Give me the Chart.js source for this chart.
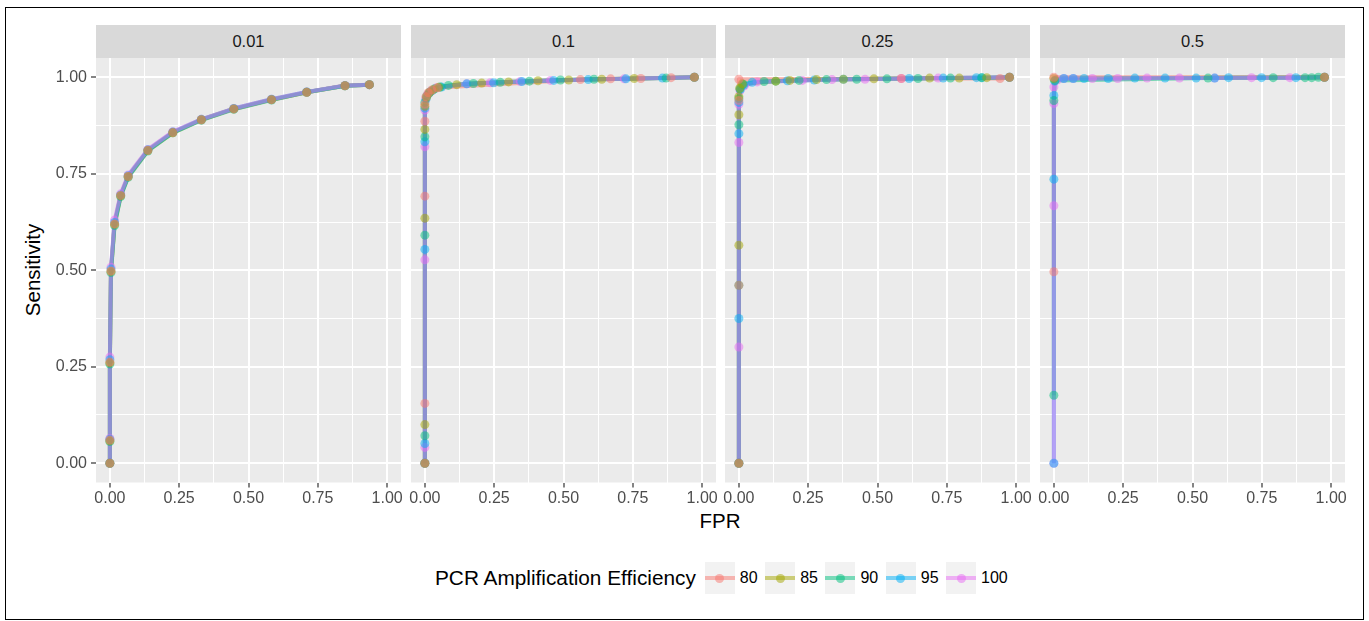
<!DOCTYPE html>
<html>
<head>
<meta charset="utf-8">
<title>ROC by facet</title>
<script src="https://cdn.jsdelivr.net/npm/chart.js@4.4.1/dist/chart.umd.min.js"></script>
<style>
  html, body { margin: 0; padding: 0; background: #ffffff; }
  body { font-family: "Liberation Sans", Arial, Helvetica, sans-serif; }
  #fig { position: relative; width: 1369px; height: 621px; overflow: hidden; }
  #frame { position: absolute; left: 5px; top: 7px; width: 1359px; height: 613px; border: 1px solid #000; box-sizing: border-box; }
  .strip { position: absolute; top: 25px; height: 33px; width: 305px; background: #D9D9D9; color: #1A1A1A; font-size: 16.5px; line-height: 33px; text-align: center; }
  canvas { position: absolute; }
  #ytitle { position: absolute; left: 33px; top: 270px; transform: translate(-50%, -50%) rotate(-90deg); font-size: 20.5px; white-space: nowrap; }
  #xtitle { position: absolute; left: 720px; top: 521px; transform: translate(-50%, -50%); font-size: 20.5px; }
  #legend { position: absolute; left: 435px; top: 562px; height: 32px; display: flex; align-items: center; font-size: 16px; white-space: nowrap; }
  #legend .title { font-size: 20.8px; margin-right: 9px; }
  .key { position: relative; width: 30px; height: 32px; background: #F2F2F2; }
  .key .ln { position: absolute; left: 0; right: 0; top: 14px; height: 4px; }
  .key .pt { position: absolute; left: 10.5px; top: 11.5px; width: 9px; height: 9px; border-radius: 50%; }
  .lab { margin-left: 5px; margin-right: 7.5px; }
</style>
</head>
<body>
<div id="fig">
  <div id="frame"></div>
  <div id="ytitle">Sensitivity</div>
  <div id="xtitle">FPR</div>
  <div id="legend"><span class="title">PCR Amplification Efficiency</span></div>
</div>
<script>
'use strict';
let facets = ['0.01', '0.1', '0.25', '0.5'];
let efficiency = ['80', '85', '90', '95', '100'];
let axisTicks = [0, 0.25, 0.5, 0.75, 1];

// facet 0.01 - one row per efficiency
let fpr001 = [
  [0, 0, 0, 0.004, 0.017, 0.039, 0.066, 0.137, 0.227, 0.330, 0.447, 0.583, 0.710, 0.848, 0.936],
  [0, 0, 0, 0.004, 0.017, 0.039, 0.066, 0.137, 0.227, 0.330, 0.447, 0.583, 0.710, 0.848, 0.936],
  [0, 0, 0, 0.004, 0.017, 0.039, 0.066, 0.137, 0.227, 0.330, 0.447, 0.583, 0.710, 0.848, 0.936],
  [0, 0, 0, 0.004, 0.017, 0.039, 0.066, 0.137, 0.227, 0.330, 0.447, 0.583, 0.710, 0.848, 0.936],
  [0, 0, 0, 0.004, 0.017, 0.039, 0.066, 0.137, 0.227, 0.330, 0.447, 0.583, 0.710, 0.848, 0.936]
];
let sens001 = [
  [0, 0.060, 0.262, 0.498, 0.620, 0.694, 0.743, 0.811, 0.857, 0.890, 0.918, 0.942, 0.961, 0.978, 0.981],
  [0, 0.058, 0.260, 0.497, 0.619, 0.693, 0.743, 0.810, 0.856, 0.890, 0.918, 0.942, 0.961, 0.978, 0.981],
  [0, 0.056, 0.257, 0.494, 0.616, 0.691, 0.741, 0.809, 0.856, 0.889, 0.917, 0.941, 0.961, 0.978, 0.981],
  [0, 0.062, 0.268, 0.503, 0.624, 0.695, 0.745, 0.812, 0.858, 0.891, 0.919, 0.943, 0.962, 0.978, 0.981],
  [0, 0.064, 0.275, 0.508, 0.630, 0.698, 0.747, 0.813, 0.859, 0.891, 0.919, 0.943, 0.962, 0.979, 0.981]
];

// facet 0.1
let fpr01 = [
  [0, 0, 0, 0, 0, 0.004, 0.012, 0.025, 0.045, 0.561, 0.670, 0.779, 0.888, 0.972],
  [0, 0, 0, 0, 0, 0.006, 0.016, 0.030, 0.050, 0.115, 0.205, 0.302, 0.408, 0.519, 0.638, 0.755, 0.972],
  [0, 0, 0, 0, 0, 0.007, 0.018, 0.035, 0.055, 0.085, 0.175, 0.272, 0.377, 0.489, 0.610, 0.870, 0.972],
  [0, 0, 0, 0, 0, 0.005, 0.014, 0.028, 0.060, 0.151, 0.248, 0.350, 0.465, 0.589, 0.725, 0.857, 0.972],
  [0, 0, 0, 0, 0, 0.003, 0.010, 0.022, 0.040, 0.151, 0.236, 0.344, 0.453, 0.719, 0.972]
];
let sens01 = [
  [0, 0.155, 0.692, 0.886, 0.930, 0.950, 0.960, 0.967, 0.973, 0.994, 0.996, 0.997, 0.999, 1.000],
  [0, 0.100, 0.635, 0.865, 0.925, 0.948, 0.960, 0.968, 0.974, 0.981, 0.985, 0.988, 0.991, 0.993, 0.995, 0.997, 1.000],
  [0, 0.071, 0.591, 0.846, 0.935, 0.952, 0.962, 0.970, 0.975, 0.979, 0.984, 0.987, 0.990, 0.993, 0.995, 0.998, 1.000],
  [0, 0.051, 0.554, 0.833, 0.920, 0.945, 0.958, 0.966, 0.975, 0.983, 0.986, 0.989, 0.992, 0.994, 0.996, 0.998, 1.000],
  [0, 0.041, 0.527, 0.820, 0.915, 0.942, 0.955, 0.964, 0.972, 0.983, 0.986, 0.989, 0.992, 0.996, 1.000]
];

// facet 0.25
let fpr025 = [
  [0, 0, 0, 0, 0.586, 0.942, 0.976],
  [0, 0, 0, 0, 0.003, 0.012, 0.133, 0.184, 0.280, 0.377, 0.487, 0.688, 0.795, 0.894, 0.976],
  [0, 0, 0, 0, 0.004, 0.015, 0.091, 0.133, 0.217, 0.316, 0.425, 0.534, 0.646, 0.763, 0.876, 0.976],
  [0, 0, 0, 0, 0.005, 0.018, 0.048, 0.175, 0.272, 0.377, 0.614, 0.737, 0.857, 0.876, 0.976],
  [0, 0, 0, 0, 0.004, 0.020, 0.066, 0.229, 0.336, 0.455, 0.586, 0.719, 0.976]
];
let sens025 = [
  [0, 0.461, 0.940, 0.995, 0.997, 0.997, 1.000],
  [0, 0.565, 0.903, 0.950, 0.972, 0.983, 0.990, 0.992, 0.994, 0.995, 0.996, 0.998, 0.998, 0.999, 1.000],
  [0, 0.461, 0.877, 0.945, 0.970, 0.982, 0.989, 0.990, 0.992, 0.994, 0.995, 0.996, 0.997, 0.998, 0.999, 1.000],
  [0, 0.375, 0.854, 0.935, 0.968, 0.980, 0.987, 0.991, 0.993, 0.995, 0.997, 0.998, 0.999, 0.999, 1.000],
  [0, 0.301, 0.831, 0.930, 0.965, 0.978, 0.988, 0.992, 0.994, 0.995, 0.997, 0.998, 1.000]
];

// facet 0.5
let fpr05 = [
  [0, 0, 0.976],
  [0, 0.976],
  [0, 0, 0.004, 0.556, 0.791, 0.906, 0.930, 0.954, 0.976],
  [0, 0, 0, 0.003, 0.036, 0.070, 0.109, 0.196, 0.292, 0.401, 0.513, 0.580, 0.630, 0.749, 0.873, 0.976],
  [0, 0, 0, 0, 0.012, 0.036, 0.070, 0.139, 0.230, 0.336, 0.453, 0.580, 0.713, 0.851, 0.976]
];
let sens05 = [
  [0.496, 1.000, 1.000],
  [0.997, 1.000],
  [0.176, 0.940, 0.992, 0.998, 0.999, 0.999, 0.999, 1.000, 1.000],
  [0, 0.736, 0.953, 0.990, 0.997, 0.997, 0.997, 0.997, 0.998, 0.998, 0.998, 0.998, 0.999, 0.999, 0.999, 1.000],
  [0, 0.667, 0.932, 0.975, 0.993, 0.997, 0.997, 0.997, 0.997, 0.998, 0.998, 0.998, 0.999, 0.999, 1.000]
];

let allFpr = [fpr001, fpr01, fpr025, fpr05];
let allSens = [sens001, sens01, sens025, sens05];

let hues = ['#F8766D', '#A3A500', '#00BF7D', '#00B0F6', '#E76BF3'];
let panelLeft = [96, 411, 725, 1040];
let panelW = 305;

function fade(hex, a) {
  let r = parseInt(hex.slice(1, 3), 16);
  let g = parseInt(hex.slice(3, 5), 16);
  let b = parseInt(hex.slice(5, 7), 16);
  return `rgba(${r},${g},${b},${a})`;
}

function isMain(v) {
  return axisTicks.some(t => Math.abs(t - v) < 1e-9);
}

// major ticks plus the halfway minor grid lines
function setTicks(scale) {
  let vals = [];
  for (let i = 0; i < axisTicks.length; i++) {
    vals.push(axisTicks[i]);
    if (i < axisTicks.length - 1) vals.push((axisTicks[i] + axisTicks[i + 1]) / 2);
  }
  scale.ticks = vals.map(v => ({ value: v }));
}

let panelBg = {
  id: 'panelBg',
  beforeDraw(chart) {
    let a = chart.chartArea;
    let ctx = chart.ctx;
    ctx.save();
    ctx.fillStyle = '#EBEBEB';
    ctx.fillRect(a.left, a.top, a.right - a.left, a.bottom - a.top);
    ctx.restore();
  }
};

Chart.defaults.font.family = '"Liberation Sans", Arial, Helvetica, sans-serif';

let fig = document.getElementById('fig');

for (let p = 0; p < facets.length; p++) {
  let strip = document.createElement('div');
  strip.className = 'strip';
  strip.style.left = panelLeft[p] + 'px';
  strip.textContent = facets[p];
  fig.appendChild(strip);

  let padL = p === 0 ? 56 : 10;
  let cv = document.createElement('canvas');
  cv.width = padL + panelW + 10;
  cv.height = 465;
  cv.style.left = (panelLeft[p] - padL) + 'px';
  cv.style.top = '48px';
  fig.appendChild(cv);

  let datasets = [];
  // lines first (bottom), 80 drawn first
  for (let s = 0; s < efficiency.length; s++) {
    datasets.push({
      label: efficiency[s],
      data: allFpr[p][s].map((x, i) => ({ x: x, y: allSens[p][s][i] })),
      showLine: true,
      borderColor: fade(hues[s], 0.5),
      borderWidth: 4,
      borderJoinStyle: 'round',
      pointRadius: 0,
      fill: false,
      order: 20 - s
    });
  }
  // points on top, 80 ends up on top
  for (let s = 0; s < efficiency.length; s++) {
    datasets.push({
      label: efficiency[s] + ' pts',
      data: allFpr[p][s].map((x, i) => ({ x: x, y: allSens[p][s][i] })),
      showLine: false,
      pointRadius: 4.5,
      pointBorderWidth: 0,
      backgroundColor: fade(hues[s], 0.5),
      borderColor: 'rgba(0,0,0,0)',
      order: 6 + s
    });
  }

  let gridOpts = {
    color: '#FFFFFF',
    lineWidth: c => (c.tick && isMain(c.tick.value)) ? 2 : 1,
    tickColor: c => (c.tick && isMain(c.tick.value)) ? '#333333' : 'rgba(0,0,0,0)',
    tickWidth: 1.2,
    tickLength: 5
  };

  new Chart(cv, {
    type: 'scatter',
    data: { datasets: datasets },
    plugins: [panelBg],
    options: {
      responsive: false,
      animation: false,
      events: [],
      layout: { padding: { left: p === 0 ? 0 : 10, right: 10, top: 10, bottom: 0 } },
      plugins: { legend: { display: false }, tooltip: { enabled: false } },
      scales: {
        x: {
          type: 'linear',
          min: -0.05,
          max: 1.05,
          afterBuildTicks: setTicks,
          afterFit: s => { s.height = 30.5; s.paddingLeft = 0; s.paddingRight = 0; },
          border: { display: false },
          grid: gridOpts,
          ticks: {
            autoSkip: false,
            maxRotation: 0,
            padding: 1,
            color: '#4D4D4D',
            font: { size: 16 },
            callback: v => isMain(v) ? v.toFixed(2) : ''
          }
        },
        y: {
          type: 'linear',
          min: -0.05,
          max: 1.05,
          afterBuildTicks: setTicks,
          afterFit: s => { s.width = p === 0 ? 56 : 0; s.paddingTop = 0; s.paddingBottom = 0; },
          border: { display: false },
          grid: Object.assign({}, gridOpts, { drawTicks: p === 0 }),
          ticks: {
            display: p === 0,
            autoSkip: false,
            padding: 4,
            color: '#4D4D4D',
            font: { size: 16 },
            callback: v => isMain(v) ? v.toFixed(2) : ''
          }
        }
      }
    }
  });
}

// legend like ggplot: key box with line and dot
let legend = document.getElementById('legend');
for (let s = 0; s < efficiency.length; s++) {
  let key = document.createElement('div');
  key.className = 'key';
  let ln = document.createElement('div');
  ln.className = 'ln';
  ln.style.background = fade(hues[s], 0.5);
  let pt = document.createElement('div');
  pt.className = 'pt';
  pt.style.background = fade(hues[s], 0.5);
  key.appendChild(ln);
  key.appendChild(pt);
  legend.appendChild(key);
  let lab = document.createElement('span');
  lab.className = 'lab';
  lab.textContent = efficiency[s];
  legend.appendChild(lab);
}
</script>
</body>
</html>
